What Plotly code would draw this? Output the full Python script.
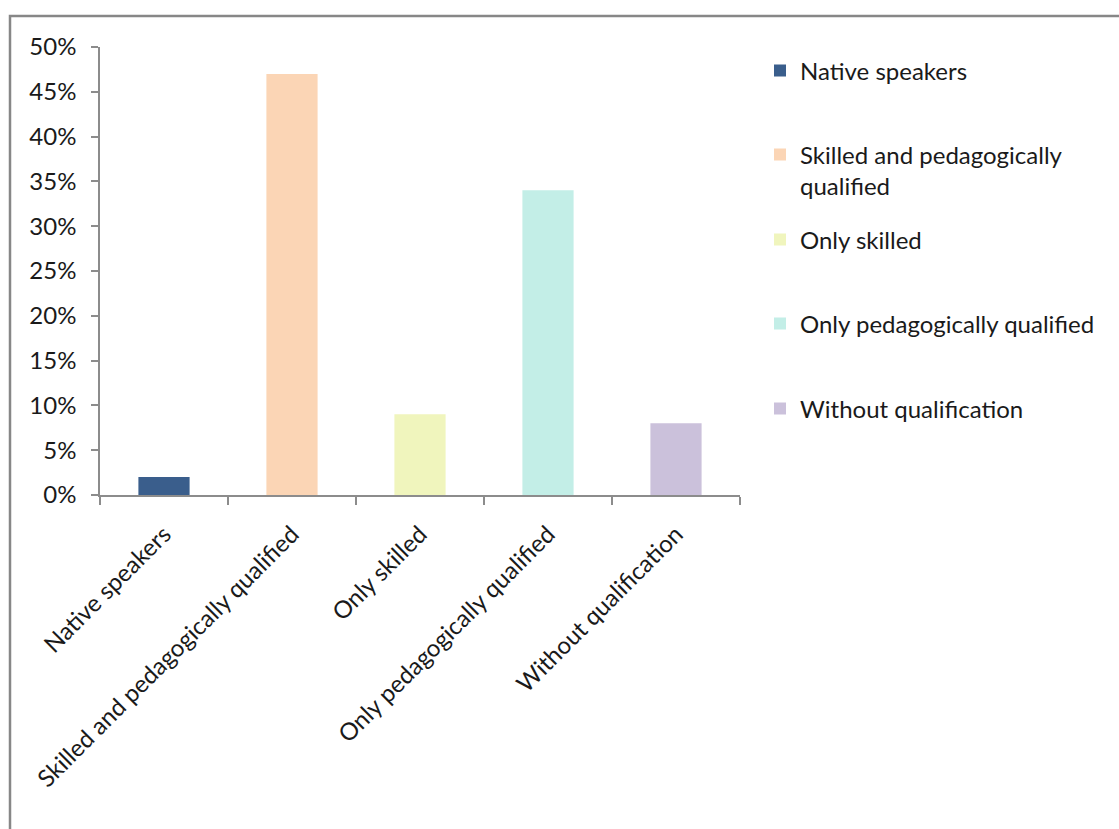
import plotly.graph_objects as go

categories = ["Native speakers", "Skilled and pedagogically qualified", "Only skilled",
              "Only pedagogically qualified", "Without qualification"]
legend_names = ["Native speakers", "Skilled and pedagogically<br>qualified", "Only skilled",
                "Only pedagogically qualified", "Without qualification"]
values = [0.02, 0.47, 0.09, 0.34, 0.08]
colors = ["#3A5E8C", "#FBD5B5", "#F0F5BD", "#C3EEE7", "#CBC1DB"]
y_ticks = [0, 0.05, 0.10, 0.15, 0.20, 0.25, 0.30, 0.35, 0.40, 0.45, 0.50]

W, H = 1119, 829
L, R, T, B = 100, 740, 47, 495  # plot area in pixels

def px_x(p):
    return (p - L) / (R - L)

def px_y(p):
    return (B - p) / (B - T)

FONT = "Lato"
FS = 24
AX = "#8C8C8C"

fig = go.Figure()
legend_keys = ["legend", "legend2", "legend3", "legend4", "legend5"]
legend_y = [71, 170.5, 240, 324, 409]
for i, (cat, nm, v, c) in enumerate(zip(categories, legend_names, values, colors)):
    fig.add_trace(go.Bar(x=[cat], y=[v], name=nm, marker=dict(color=c, line=dict(width=0)),
                         width=0.4, legend=legend_keys[i], hoverinfo="x+y"))

layout_legends = {}
for key, py in zip(legend_keys, legend_y):
    layout_legends[key] = dict(x=px_x(760), xanchor="left", y=px_y(py), yanchor="middle",
                               font=dict(family=FONT, size=FS, color="#1a1a1a"),
                               bgcolor="rgba(0,0,0,0)", valign="top", itemclick=False)

fig.update_layout(
    width=W, height=H,
    margin=dict(l=L, r=W - R, t=T, b=H - B, autoexpand=False),
    paper_bgcolor="white", plot_bgcolor="white",
    barmode="overlay",
    showlegend=True,
    font=dict(family=FONT, size=FS, color="#1a1a1a"),
    xaxis=dict(range=[-0.5, 4.5], showline=True, linecolor=AX, linewidth=1.5,
               ticks="outside", tickson="boundaries", ticklen=8, tickcolor=AX, tickwidth=1.5,
               tickangle=-45, showgrid=False, zeroline=False, ticklabelstandoff=14,
               tickfont=dict(family=FONT, size=FS, color="#1a1a1a")),
    yaxis=dict(range=[0, 0.5], tickvals=y_ticks, tickformat=".0%", showline=True,
               linecolor=AX, linewidth=1.5, ticks="outside", ticklen=7, tickcolor=AX,
               tickwidth=1.5, showgrid=False, zeroline=False, ticklabelstandoff=10,
               tickfont=dict(family=FONT, size=FS, color="#1a1a1a")),
    shapes=[dict(type="rect", xref="paper", yref="paper",
                 x0=px_x(10), x1=px_x(1130), y0=px_y(845), y1=px_y(16),
                 line=dict(color="#878787", width=2.5), fillcolor="rgba(0,0,0,0)", layer="below")],
    **layout_legends,
)

fig.write_html("out.html")
